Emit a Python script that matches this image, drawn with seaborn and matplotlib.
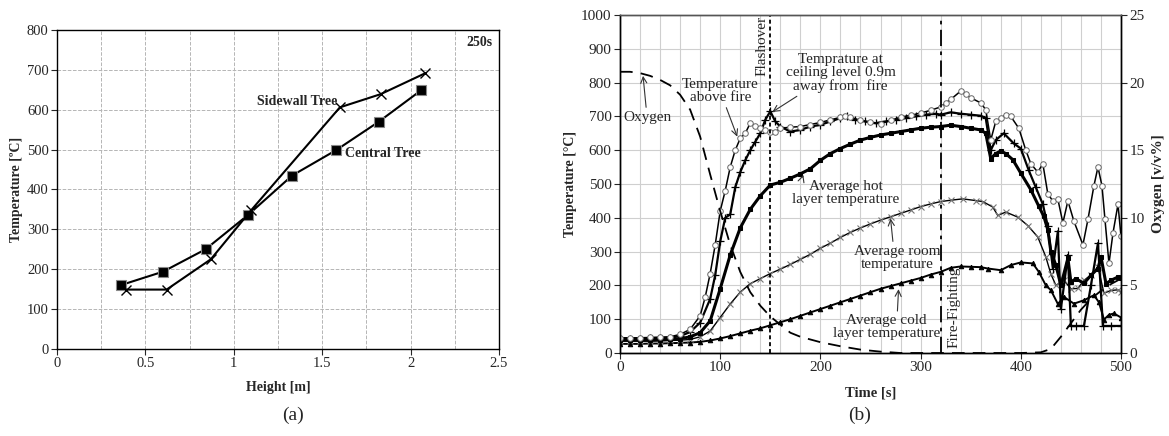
import numpy as np
import pandas as pd
import matplotlib
matplotlib.use("Agg")
import matplotlib.pyplot as plt
import matplotlib.ticker as mticker
import seaborn as sns

# ---------------- Panel (a) data ----------------
central_h = [0.36, 0.60, 0.84, 1.08, 1.33, 1.58, 1.82, 2.06]
central_T = [160, 194, 250, 336, 435, 499, 570, 649]
side_h = [0.39, 0.62, 0.87, 1.10, 1.60, 1.83, 2.08]
side_T = [149, 149, 225, 349, 606, 639, 691]

# ---------------- Panel (b) data ----------------
t_fire = [0, 10, 20, 30, 40, 50, 60, 70, 80, 85, 90, 95, 100, 105, 110, 115, 120, 125, 130, 135,
          140, 145, 150, 155, 160, 170, 180, 190, 200, 210, 220, 225, 230, 240, 250, 260, 270, 280,
          290, 300, 310, 320, 325, 330, 340, 345, 350, 360, 365, 370, 375, 380, 385, 390, 398, 405,
          410, 417, 422, 427, 432, 437, 442, 447, 453, 462, 467, 473, 477, 481, 484, 488, 492, 497, 500]
T_fire = [45, 45, 45, 46, 47, 48, 55, 70, 110, 165, 235, 320, 420, 480, 550, 600, 635, 650, 680, 672,
          665, 660, 655, 655, 665, 668, 670, 676, 682, 690, 697, 702, 698, 688, 682, 678, 688, 698,
          703, 710, 718, 728, 740, 750, 775, 765, 755, 740, 720, 630, 685, 695, 705, 700, 665, 600,
          560, 535, 560, 470, 450, 455, 385, 450, 390, 320, 395, 495, 550, 495, 395, 265, 355, 440, 345]

t_ceil = [0, 10, 20, 30, 40, 50, 60, 70, 80, 90, 95, 100, 105, 110, 115, 120, 125, 130, 135, 140,
          145, 150, 155, 160, 170, 180, 190, 200, 210, 220, 227, 235, 245, 255, 265, 275, 285, 295,
          305, 315, 320, 330, 340, 350, 360, 365, 370, 375, 383, 393, 400, 408, 415, 422, 427, 432,
          437, 440, 447, 450, 455, 463, 470, 477, 482, 490, 500]
T_ceil = [42, 42, 42, 43, 44, 45, 50, 62, 90, 160, 230, 330, 400, 410, 490, 535, 570, 600, 625, 650,
          690, 715, 685, 670, 655, 660, 670, 675, 685, 695, 700, 690, 685, 680, 685, 690, 695, 700,
          705, 708, 705, 712, 708, 705, 702, 695, 600, 630, 650, 620, 605, 540, 490, 440, 375, 250,
          360, 130, 290, 80, 80, 80, 200, 325, 80, 80, 80]

t_hot = [0, 10, 20, 30, 40, 50, 60, 70, 80, 90, 100, 110, 120, 130, 140, 150, 160, 170, 180, 190,
         200, 210, 220, 230, 240, 250, 260, 270, 280, 290, 300, 310, 320, 330, 340, 350, 360, 365,
         370, 375, 380, 385, 392, 400, 410, 418, 423, 427, 430, 435, 440, 447, 450, 455, 463, 470,
         477, 480, 485, 490, 497, 500]
T_hot = [38, 38, 38, 38, 39, 40, 42, 48, 60, 95, 190, 290, 370, 425, 465, 497, 505, 517, 530, 545,
         570, 590, 605, 618, 630, 638, 645, 650, 655, 660, 665, 668, 670, 674, 670, 665, 660, 650,
         575, 590, 598, 590, 572, 532, 483, 434, 404, 364, 300, 260, 200, 280, 210, 220, 206, 230,
         250, 285, 205, 215, 225, 222]

t_room = [0, 10, 20, 30, 40, 50, 60, 70, 80, 90, 100, 110, 120, 130, 140, 150, 160, 170, 180, 190,
          200, 210, 220, 230, 240, 250, 260, 270, 280, 290, 300, 310, 320, 330, 342, 355, 362, 372,
          377, 385, 397, 407, 417, 425, 430, 435, 443, 450, 457, 463, 470, 477, 483, 490, 497, 500]
T_room = [35, 35, 35, 35, 36, 37, 38, 40, 48, 65, 105, 145, 180, 205, 220, 235, 248, 262, 277, 292,
          310, 325, 342, 357, 370, 382, 393, 403, 413, 423, 433, 441, 448, 452, 456, 451, 448, 432,
          407, 417, 402, 377, 343, 284, 234, 200, 215, 190, 191, 215, 230, 255, 177, 185, 187, 180]

t_cold = [0, 10, 20, 30, 40, 50, 60, 70, 80, 90, 100, 110, 120, 130, 140, 150, 160, 170, 180, 190,
          200, 210, 220, 230, 240, 250, 260, 270, 280, 290, 300, 310, 320, 330, 340, 350, 360, 367,
          380, 390, 400, 412, 418, 425, 430, 437, 443, 453, 463, 473, 478, 483, 488, 493, 500]
T_cold = [27, 27, 27, 28, 28, 29, 30, 31, 33, 37, 43, 50, 58, 66, 73, 82, 91, 100, 110, 120,
          130, 140, 150, 160, 170, 180, 190, 198, 206, 214, 222, 232, 240, 252, 256, 255, 254, 250,
          245, 260, 268, 265, 240, 200, 186, 145, 166, 146, 156, 171, 150, 99, 113, 117, 105]

t_o2 = [0, 10, 20, 30, 40, 50, 60, 70, 80, 90, 100, 110, 120, 130, 140, 150, 160, 170, 180,
        200, 220, 240, 260, 280, 300, 320, 340, 360, 380, 400, 420, 430, 440, 450, 460, 470,
        480, 490, 500]
O2 = [20.8, 20.8, 20.7, 20.5, 20.2, 19.8, 19.1, 18.0, 16.0, 13.2, 10.5, 8.0, 6.0, 4.5, 3.5, 2.7,
      2.1, 1.5, 1.2, 0.8, 0.5, 0.25, 0.1, 0.0, 0.0, 0.0, 0.0, 0.0, 0.0, 0.0, 0.05, 0.3, 1.2, 2.2,
      3.2, 4.0, 4.6, 5.1, 5.5]

flashover_t = 150
firefight_t = 320

# ---------------- style ----------------
sns.set_style("white")
plt.rcParams['font.family'] = ['Liberation Serif', 'DejaVu Serif']
plt.rcParams['mathtext.fontset'] = 'stix'

fig = plt.figure(figsize=(11.69, 4.36), dpi=100)
axA = fig.add_axes([57 / 1169, 87 / 436, 442 / 1169, 319 / 436])
axB = fig.add_axes([620 / 1169, 83 / 436, 501 / 1169, 338 / 436])

TICK_A = 10.5
TICK_B = 11

# ---------------- Panel (a) ----------------
dfc = pd.DataFrame({'h': central_h, 'T': central_T})
dfs = pd.DataFrame({'h': side_h, 'T': side_T})
sns.lineplot(data=dfc, x='h', y='T', ax=axA, color='black', lw=1.5, marker='s', markersize=7,
             markerfacecolor='black', markeredgecolor='#888888', markeredgewidth=0.8,
             estimator=None, sort=False)
sns.lineplot(data=dfs, x='h', y='T', ax=axA, color='black', lw=1.5, marker='x', markersize=7,
             markeredgecolor='black', markeredgewidth=1.0, estimator=None, sort=False)
axA.set_xlim(0, 2.5)
axA.set_ylim(0, 800)
axA.xaxis.set_major_locator(mticker.MultipleLocator(0.5))
axA.xaxis.set_minor_locator(mticker.MultipleLocator(0.25))
axA.yaxis.set_major_locator(mticker.MultipleLocator(100))
axA.xaxis.set_major_formatter(mticker.FuncFormatter(lambda v, p: f"{v:g}"))
axA.grid(True, which='both', axis='x', color='#b5b5b5', ls='--', lw=0.7)
axA.grid(True, which='major', axis='y', color='#b5b5b5', ls='--', lw=0.7)
axA.tick_params(axis='both', which='major', labelsize=TICK_A, direction='out', length=4, width=0.8,
                left=True, bottom=True, pad=2)
axA.tick_params(axis='x', which='minor', length=0)
for s in axA.spines.values():
    s.set_color('black')
    s.set_linewidth(1.0)
axA.set_xlabel('Height [m]', fontsize=10, fontweight='bold', labelpad=8)
axA.set_ylabel('Temperature [ºC]', fontsize=10, fontweight='bold', labelpad=3)
axA.text(1.585, 620, 'Sidewall Tree', fontsize=10, fontweight='bold', ha='right', va='center')
axA.text(1.63, 490, 'Central Tree', fontsize=10, fontweight='bold', ha='left', va='center')
axA.text(2.465, 768, '250s', fontsize=10, fontweight='bold', ha='right', va='center')

# ---------------- Panel (b) ----------------
axO = axB.twinx()

def series(t, v):
    return pd.DataFrame({'t': t, 'v': v})

sns.lineplot(data=series(t_cold, T_cold), x='t', y='v', ax=axB, color='black', lw=1.4,
             marker='^', markersize=3.2, markeredgecolor='black', estimator=None, sort=False)
sns.lineplot(data=series(t_room, T_room), x='t', y='v', ax=axB, color='black', lw=1.0,
             marker='x', markersize=4, markeredgecolor='#777777', markeredgewidth=0.8,
             estimator=None, sort=False)
sns.lineplot(data=series(t_hot, T_hot), x='t', y='v', ax=axB, color='black', lw=2.2,
             marker='s', markersize=2.6, markeredgecolor='black', estimator=None, sort=False)
sns.lineplot(data=series(t_ceil, T_ceil), x='t', y='v', ax=axB, color='black', lw=1.6,
             marker='+', markersize=6, markeredgecolor='black', markeredgewidth=0.9,
             estimator=None, sort=False)
sns.lineplot(data=series(t_fire, T_fire), x='t', y='v', ax=axB, color='black', lw=1.1,
             marker='o', markersize=4, markerfacecolor='white', markeredgecolor='#666666',
             markeredgewidth=0.7, estimator=None, sort=False)
sns.lineplot(data=series(t_o2, O2), x='t', y='v', ax=axO, color='black', lw=1.3,
             estimator=None, sort=False, dashes=False)
axO.lines[-1].set_dashes((7, 4.5))

axB.axvline(flashover_t, color='black', lw=1.3, ls=(0, (2.2, 1.6)))
axB.axvline(firefight_t, color='black', lw=1.3, ls=(0, (9, 3, 2, 3)))

axB.set_xlim(0, 500)
axB.set_ylim(0, 1000)
axO.set_ylim(0, 25)
axB.xaxis.set_major_locator(mticker.MultipleLocator(100))
axB.xaxis.set_minor_locator(mticker.MultipleLocator(20))
axB.yaxis.set_major_locator(mticker.MultipleLocator(100))
axO.yaxis.set_major_locator(mticker.MultipleLocator(5))
axB.grid(True, which='both', axis='x', color='#cfcfcf', lw=0.8)
axB.grid(True, which='major', axis='y', color='#cfcfcf', lw=0.8)
axB.set_axisbelow(True)
axO.grid(False)
axB.tick_params(axis='both', which='major', labelsize=TICK_B, direction='out', length=4, width=0.8,
                left=True, bottom=True, pad=2)
axB.tick_params(axis='x', which='minor', length=0)
axO.tick_params(axis='y', labelsize=TICK_B, direction='out', length=4, width=0.8, right=True, pad=2)
for s in list(axB.spines.values()) + list(axO.spines.values()):
    s.set_color('black')
    s.set_linewidth(1.0)
axB.spines['top'].set_color('#555555')
axO.spines['top'].set_color('#555555')
axB.set_xlabel('Time [s]', fontsize=10.5, fontweight='bold', labelpad=9)
axB.set_ylabel('Temperature [°C]', fontsize=10, fontweight='bold', labelpad=3)
axO.set_ylabel('Oxygen [v/v%]', fontsize=11, fontweight='bold', labelpad=5)

AF = 11
arrow = dict(arrowstyle='->', color='#333333', lw=0.8, shrinkA=0, shrinkB=0)
axB.annotate('Oxygen', xy=(23, 820), xytext=(27, 698), fontsize=AF, ha='center', va='center',
             arrowprops=arrow)
axB.annotate('Temperature\nabove fire', xy=(117, 640), xytext=(100, 774), fontsize=AF,
             ha='center', va='center', linespacing=1.0, arrowprops=arrow)
axB.annotate('Temprature at\nceiling level 0.9m\naway from  fire', xy=(152, 713),
             xytext=(220, 828), fontsize=AF, ha='center', va='center', linespacing=1.0,
             arrowprops=dict(arrowstyle='->', color='#333333', lw=0.8, shrinkA=0, shrinkB=0,
                             relpos=(0.15, 0.0)))
axB.annotate('Average hot\nlayer temperature', xy=(183, 527), xytext=(225, 472), fontsize=AF,
             ha='center', va='center', linespacing=1.0,
             arrowprops=dict(arrowstyle='->', color='#333333', lw=0.8, shrinkA=0, shrinkB=0,
                             relpos=(0.07, 0.75)))
axB.annotate('Average room\ntemperature', xy=(270, 398), xytext=(277, 282), fontsize=AF,
             ha='center', va='center', linespacing=1.0,
             arrowprops=dict(arrowstyle='->', color='#333333', lw=0.8, shrinkA=0, shrinkB=0,
                             relpos=(0.45, 1.0)))
axB.annotate('Average cold\nlayer temperature', xy=(278, 189), xytext=(266, 76), fontsize=AF,
             ha='center', va='center', linespacing=1.0,
             arrowprops=dict(arrowstyle='->', color='#333333', lw=0.8, shrinkA=0, shrinkB=0,
                             relpos=(0.6, 1.0)))
axB.text(142, 908, 'Flashover', rotation=90, fontsize=AF, ha='center', va='center')
axB.text(333, 135, 'Fire-Fighting', rotation=90, fontsize=AF, ha='center', va='center')

fig.text(293 / 1169, 1 - 415 / 436, '(a)', fontsize=14, ha='center', va='center')
fig.text(860 / 1169, 1 - 415 / 436, '(b)', fontsize=14, ha='center', va='center')

fig.savefig('out.png', dpi=100)
